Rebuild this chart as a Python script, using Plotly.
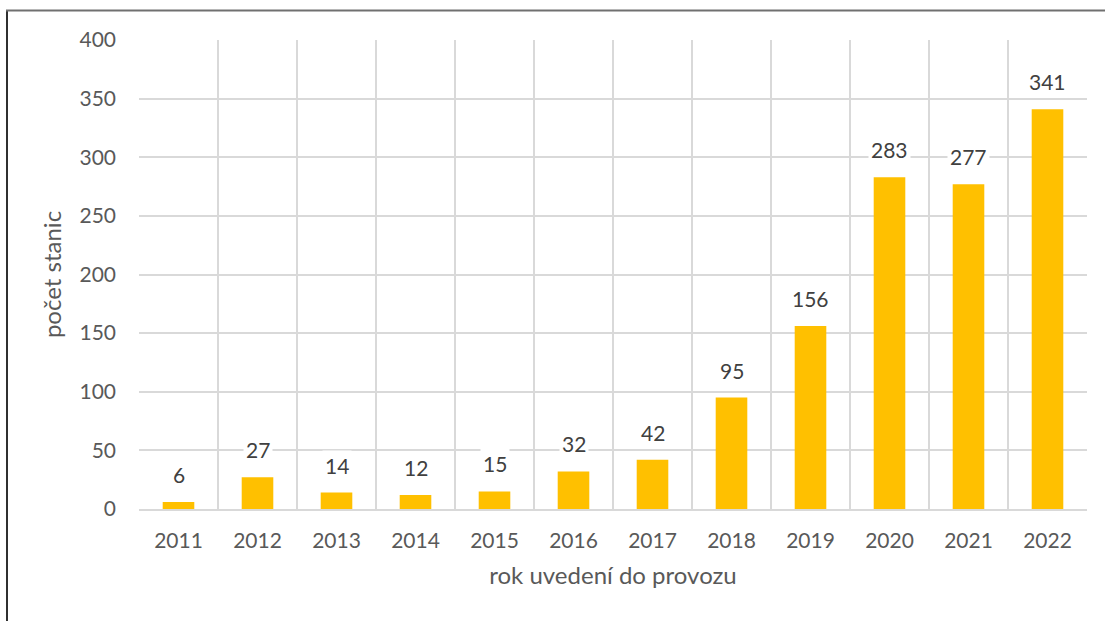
import plotly.graph_objects as go

years = ["2011", "2012", "2013", "2014", "2015", "2016", "2017", "2018", "2019", "2020", "2021", "2022"]
stations = [6, 27, 14, 12, 15, 32, 42, 95, 156, 283, 277, 341]
y_ticks = [0, 50, 100, 150, 200, 250, 300, 350, 400]

FONT = "Lato"
TXT = "#595959"
GRID = "#D9D9D9"

fig = go.Figure()
fig.add_trace(go.Bar(x=years, y=stations, marker=dict(color="#FFC000", line=dict(width=0)),
                     hoverinfo="x+y"))

for i, v in enumerate(stations):
    fig.add_annotation(x=i, y=v, text=str(v), showarrow=False, yanchor="bottom", yshift=12,
                       bgcolor="white", borderpad=2,
                       font=dict(family=FONT, size=21, color="#404040"))

ml, mr, mt, mb = 139, 18, 40, 112
W, H = 1105, 621
pw, ph = W - ml - mr, H - mt - mb

def px(x):
    return (x - ml) / pw

def py(y):
    return (H - mb - y) / ph

fig.add_shape(type="line", xref="paper", yref="paper", x0=px(7), x1=px(7), y0=py(10), y1=py(625),
              line=dict(color="#303030", width=2))
fig.add_shape(type="line", xref="paper", yref="paper", x0=px(6), x1=px(1110), y0=py(10.5), y1=py(10.5),
              line=dict(color="#707070", width=2))

fig.update_layout(
    width=W, height=H,
    margin=dict(l=ml, r=mr, t=mt, b=mb, pad=0, autoexpand=False),
    paper_bgcolor="white", plot_bgcolor="white",
    bargap=0.6, showlegend=False,
    font=dict(family=FONT, size=21, color=TXT),
    xaxis=dict(type="category", tickson="boundaries", showgrid=True, gridcolor=GRID, gridwidth=1.5,
               showline=True, linecolor=GRID, linewidth=1.5, ticks="", ticklabelstandoff=12,
               tickfont=dict(family=FONT, size=21, color=TXT), range=[-0.5, 11.5],
               title=dict(text="rok uvedení do provozu", font=dict(family=FONT, size=24, color=TXT), standoff=16)),
    yaxis=dict(range=[0, 400], tickvals=y_ticks, showgrid=True, gridcolor=GRID, gridwidth=1.5,
               zeroline=False, showline=False, ticks="", ticklabelstandoff=22,
               tickfont=dict(family=FONT, size=21, color=TXT),
               title=dict(text="počet stanic", font=dict(family=FONT, size=24, color=TXT), standoff=11)),
)

fig.write_html("out.html", config={"displayModeBar": False},
               post_script="document.body.style.margin='0';document.body.style.overflow='hidden';")
